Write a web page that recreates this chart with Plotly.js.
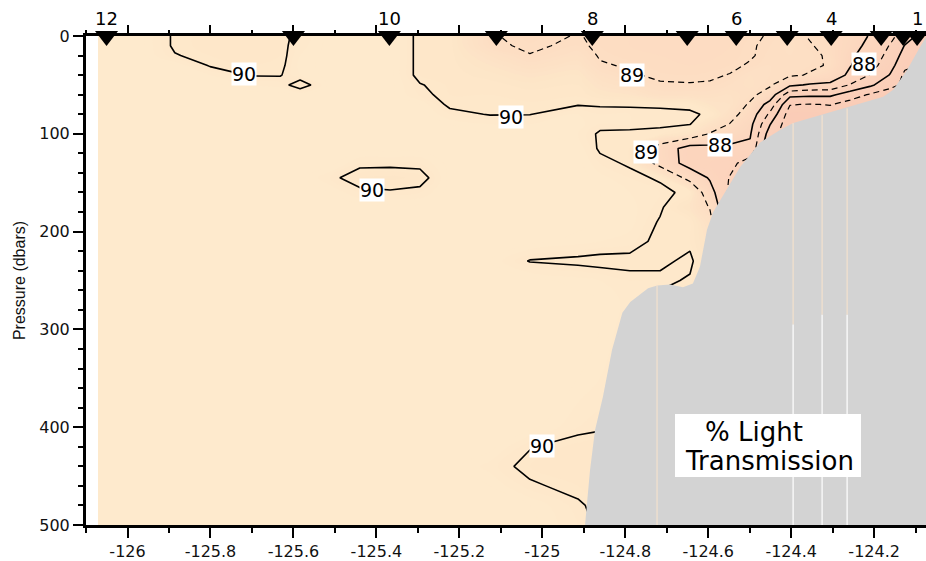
<!DOCTYPE html>
<html>
<head>
<meta charset="utf-8">
<script src="https://cdn.plot.ly/plotly-3.0.1.min.js"></script>
<style>
  html, body { margin: 0; padding: 0; background: #fff; }
  #chart { width: 926px; height: 561px; }
</style>
</head>
<body>
<div id="chart"></div>
<script>
// Section grid: longitude (deg) of each gridded profile
const gridLon = [-126.071, -125.970, -125.886, -125.801, -125.705, -125.632, -125.584, -125.512,
  -125.440, -125.367, -125.295, -125.223, -125.126, -125.030, -124.914, -124.861, -124.789,
  -124.716, -124.644, -124.596, -124.548, -124.499, -124.451, -124.403, -124.355, -124.306,
  -124.258, -124.210, -124.162, -124.126, -124.075];

// Pressure levels (dbar)
const gridP = [0, 10, 20, 30, 40, 50, 60, 70, 80, 90, 100, 115, 130, 145, 160, 175, 190, 210,
  230, 250, 270, 300, 350, 400, 420, 440, 460, 480, 500];

// % light transmission, one profile per grid longitude (surface to 500 dbar)
const transProfiles = [
  [90.35,90.35,90.35,90.35,90.35,90.35,90.35,90.35,90.35,90.35,90.35,90.35,90.35,90.35,90.35,90.35,90.35,90.35,90.35,90.35,90.35,90.35,90.35,90.35,90.35,90.35,90.35,90.35,90.35],
  [90.35,90.35,90.35,90.35,90.35,90.35,90.35,90.35,90.35,90.35,90.35,90.35,90.35,90.35,90.35,90.35,90.35,90.35,90.35,90.35,90.35,90.35,90.35,90.35,90.35,90.35,90.35,90.35,90.35],
  [89.95,89.95,90.02,90.30,90.35,90.35,90.35,90.35,90.35,90.35,90.35,90.35,90.35,90.35,90.35,90.35,90.35,90.35,90.35,90.35,90.35,90.35,90.35,90.35,90.35,90.35,90.35,90.35,90.35],
  [89.85,89.85,89.90,89.97,90.20,90.35,90.35,90.35,90.35,90.35,90.35,90.35,90.35,90.35,90.35,90.35,90.35,90.35,90.35,90.35,90.35,90.35,90.35,90.35,90.35,90.35,90.35,90.35,90.35],
  [89.85,89.85,89.85,89.90,89.98,90.20,90.35,90.35,90.35,90.35,90.35,90.35,90.35,90.35,90.35,90.35,90.35,90.35,90.35,90.35,90.35,90.35,90.35,90.35,90.35,90.35,90.35,90.35,90.35],
  [89.90,89.90,89.90,89.92,89.98,90.15,90.35,90.35,90.35,90.35,90.35,90.35,90.35,90.35,90.35,90.35,90.35,90.35,90.35,90.35,90.35,90.35,90.35,90.35,90.35,90.35,90.35,90.35,90.35],
  [90.10,90.15,90.20,90.25,90.20,89.80,90.30,90.35,90.35,90.35,90.35,90.35,90.35,90.35,90.35,90.35,90.35,90.35,90.35,90.35,90.35,90.35,90.35,90.35,90.35,90.35,90.35,90.35,90.35],
  [90.35,90.35,90.35,90.35,90.35,90.35,90.35,90.35,90.35,90.35,90.35,90.35,90.35,90.10,90.30,90.35,90.35,90.35,90.35,90.35,90.35,90.35,90.35,90.35,90.35,90.35,90.35,90.35,90.35],
  [90.35,90.35,90.35,90.35,90.35,90.35,90.35,90.35,90.35,90.35,90.35,90.35,90.10,89.80,90.10,90.35,90.35,90.35,90.35,90.35,90.35,90.35,90.35,90.35,90.35,90.35,90.35,90.35,90.35],
  [90.35,90.35,90.35,90.35,90.35,90.35,90.35,90.35,90.35,90.35,90.35,90.35,90.10,89.75,90.05,90.35,90.35,90.35,90.35,90.35,90.35,90.35,90.35,90.35,90.35,90.35,90.35,90.35,90.35],
  [89.90,89.90,89.90,89.90,89.90,90.02,90.08,90.30,90.35,90.35,90.35,90.35,90.10,89.85,90.10,90.35,90.35,90.35,90.35,90.35,90.35,90.35,90.35,90.35,90.35,90.35,90.35,90.35,90.35],
  [89.85,89.85,89.85,89.85,89.85,89.88,89.90,89.93,90.10,90.30,90.35,90.35,90.35,90.35,90.35,90.35,90.35,90.35,90.35,90.35,90.35,90.35,90.35,90.35,90.35,90.35,90.35,90.35,90.35],
  [89.05,89.10,89.40,89.60,89.75,89.85,89.90,89.93,89.98,90.20,90.30,90.35,90.35,90.35,90.35,90.35,90.35,90.35,90.30,90.35,90.35,90.35,90.35,90.35,90.35,90.15,90.30,90.35,90.35],
  [88.85,88.92,89.02,89.30,89.55,89.75,89.85,89.92,89.99,90.20,90.35,90.35,90.35,90.35,90.35,90.35,90.35,90.35,89.98,90.35,90.35,90.35,90.35,90.35,90.02,89.90,90.05,90.30,90.35],
  [89.03,89.10,89.30,89.50,89.70,89.80,89.88,89.98,90.20,90.25,90.20,90.30,90.35,90.35,90.35,90.35,90.35,90.25,89.93,90.25,90.35,90.35,90.30,90.10,89.85,89.85,89.90,90.05,90.10],
  [88.90,88.90,88.95,89.05,89.30,89.50,89.70,89.97,90.10,90.10,89.95,89.95,90.10,90.25,90.30,90.30,90.30,90.20,89.90,90.20,90.30,90.30,90.20,90.05,89.80,89.80,89.85,89.90,89.95],
  [88.80,88.80,88.85,88.95,89.05,89.30,89.60,89.96,90.10,90.10,89.93,89.90,89.95,90.10,90.20,90.25,90.25,90.15,89.90,90.10,90.15,90.10,90.10,90.10,90.10,90.10,90.10,90.10,90.10],
  [88.75,88.75,88.80,88.85,88.92,89.05,89.30,89.95,90.08,90.05,89.92,88.60,88.70,89.95,90.10,90.05,89.97,89.90,89.90,90.10,89.90,89.90,89.90,89.90,89.90,89.90,89.90,89.90,89.90],
  [88.70,88.70,88.75,88.80,88.90,89.03,89.30,89.93,90.05,90.02,89.60,87.60,87.60,88.70,89.90,89.60,89.90,89.90,90.10,89.95,89.90,89.90,89.90,89.90,89.90,89.90,89.90,89.90,89.90],
  [88.70,88.70,88.75,88.85,88.93,89.05,89.30,89.60,89.95,89.50,88.95,87.70,87.50,87.90,88.40,88.95,89.30,89.50,89.50,89.50,89.50,89.50,89.50,89.50,89.50,89.50,89.50,89.50,89.50],
  [88.80,88.80,88.85,88.90,89.02,89.20,89.40,89.50,89.30,88.98,88.50,87.80,87.30,86.95,86.80,86.80,86.80,86.80,86.80,86.80,86.80,86.80,86.80,86.80,86.80,86.80,86.80,86.80,86.80],
  [88.90,88.95,88.95,89.05,89.30,89.35,89.20,88.90,88.60,88.30,88.10,87.80,86.50,85.90,85.90,85.90,85.90,85.90,85.90,85.90,85.90,85.90,85.90,85.90,85.90,85.90,85.90,85.90,85.90],
  [89.05,89.10,89.15,89.20,89.20,89.10,88.60,87.60,86.80,86.05,85.50,84.90,84.90,84.90,84.90,84.90,84.90,84.90,84.90,84.90,84.90,84.90,84.90,84.90,84.90,84.90,84.90,84.90,84.90],
  [89.20,89.25,89.20,89.15,89.10,88.20,86.30,85.05,84.50,84.30,84.30,84.30,84.30,84.30,84.30,84.30,84.30,84.30,84.30,84.30,84.30,84.30,84.30,84.30,84.30,84.30,84.30,84.30,84.30],
  [88.95,89.05,89.15,89.10,88.95,87.90,86.20,84.95,84.50,84.30,84.30,84.30,84.30,84.30,84.30,84.30,84.30,84.30,84.30,84.30,84.30,84.30,84.30,84.30,84.30,84.30,84.30,84.30,84.30],
  [88.70,88.80,88.90,88.95,88.60,87.80,86.20,85.05,84.50,84.50,84.50,84.50,84.50,84.50,84.50,84.50,84.50,84.50,84.50,84.50,84.50,84.50,84.50,84.50,84.50,84.50,84.50,84.50,84.50],
  [88.40,88.30,88.15,88.05,87.80,86.95,85.50,84.60,84.40,84.40,84.40,84.40,84.40,84.40,84.40,84.40,84.40,84.40,84.40,84.40,84.40,84.40,84.40,84.40,84.40,84.40,84.40,84.40,84.40],
  [87.95,87.80,87.60,87.40,86.95,86.20,84.90,84.50,84.40,84.40,84.40,84.40,84.40,84.40,84.40,84.40,84.40,84.40,84.40,84.40,84.40,84.40,84.40,84.40,84.40,84.40,84.40,84.40,84.40],
  [87.30,86.95,86.70,86.40,85.95,85.30,84.50,84.50,84.50,84.50,84.50,84.50,84.50,84.50,84.50,84.50,84.50,84.50,84.50,84.50,84.50,84.50,84.50,84.50,84.50,84.50,84.50,84.50,84.50],
  [86.50,85.95,85.60,85.20,84.80,84.80,84.80,84.80,84.80,84.80,84.80,84.80,84.80,84.80,84.80,84.80,84.80,84.80,84.80,84.80,84.80,84.80,84.80,84.80,84.80,84.80,84.80,84.80,84.80],
  [85.50,84.90,84.90,84.90,84.90,84.90,84.90,84.90,84.90,84.90,84.90,84.90,84.90,84.90,84.90,84.90,84.90,84.90,84.90,84.90,84.90,84.90,84.90,84.90,84.90,84.90,84.90,84.90,84.90]
];

// Seafloor along the section (lon, pressure)
const bottomLon = [-124.897, -124.885, -124.873, -124.854, -124.832, -124.807, -124.788, -124.772,
  -124.745, -124.723, -124.692, -124.661, -124.637, -124.620, -124.610, -124.603, -124.588,
  -124.564, -124.523, -124.475, -124.427, -124.395, -124.330, -124.251, -124.178, -124.154,
  -124.121, -124.089, -124.075];
const bottomP = [500, 444, 403, 369, 321, 283, 272, 267, 258, 255, 254, 257, 253, 236, 214, 198,
  180, 163, 134, 109, 96, 89, 81, 71, 62, 55, 35, 11, 1];

// Seams between seafloor patches: lon, seafloor depth, depth where gridded data stop
const seamLon = [-124.7234, -124.3954, -124.3255, -124.2652];
const seamTopP = [255, 89, 81, 74];
const seamDataEndP = [500, 295, 285, 285];

// CTD stations occupied along the line
const stationLon = [-126.0506, -125.6, -125.3687, -125.1108, -124.8795, -124.6506, -124.5325,
  -124.4096, -124.3036, -124.1831, -124.1301, -124.0964];
const stationName = ['12', '', '10', '', '8', '', '6', '', '4', '', '', '1'];

// Axis ticks
const xTickVals = [-126, -125.8, -125.6, -125.4, -125.2, -125, -124.8, -124.6, -124.4, -124.2];
const xTickText = ['-126', '-125.8', '-125.6', '-125.4', '-125.2', '-125', '-124.8', '-124.6', '-124.4', '-124.2'];
const xMinorTickVals = [-126.1, -125.9, -125.7, -125.5, -125.3, -125.1, -124.9, -124.7, -124.5, -124.3, -124.1];
const yTickVals = [0, 100, 200, 300, 400, 500];

// Contour label placements (level shown on a white patch)
const contourLabels = [
  { lon: -125.7203, p: 39, level: 90 },
  { lon: -125.4105, p: 157.5, level: 90 },
  { lon: -125.0754, p: 83, level: 90 },
  { lon: -124.7829, p: 40, level: 89 },
  { lon: -124.7491, p: 118.5, level: 89 },
  { lon: -124.5707, p: 111.5, level: 88 },
  { lon: -124.2256, p: 28.5, level: 88 },
  { lon: -125.0007, p: 419, level: 90 }
];

// Build the z matrix (rows = pressure, columns = longitude)
const z = gridP.map((_, i) => transProfiles.map(col => col[i]));

const xRange = [-126.1001, -124.075];
const peach = [
  [0.0, 'rgb(250,203,182)'],
  [0.2857, 'rgb(251,208,186)'],
  [0.5714, 'rgb(252,214,190)'],
  [0.7143, 'rgb(253,222,195)'],
  [0.8, 'rgb(253,228,199)'],
  [0.857, 'rgb(254,232,202)'],
  [0.9, 'rgb(254,234,205)'],
  [1.0, 'rgb(254,236,208)']
];

const traces = [];

// Shaded field
traces.push({
  type: 'contour', x: gridLon, y: gridP, z: z,
  zmin: 84, zmax: 91, colorscale: peach, showscale: false,
  contours: { coloring: 'fill', start: 84, end: 91, size: 0.1, showlines: false },
  line: { width: 0 }, hoverinfo: 'skip'
});
// Even levels, solid
traces.push({
  type: 'contour', x: gridLon, y: gridP, z: z, showscale: false,
  contours: { coloring: 'none', start: 84, end: 90, size: 2 },
  line: { color: '#000', width: 1.6, smoothing: 0 }, hoverinfo: 'skip'
});
// Odd levels, dashed
traces.push({
  type: 'contour', x: gridLon, y: gridP, z: z, showscale: false,
  contours: { coloring: 'none', start: 85, end: 89, size: 2 },
  line: { color: '#000', width: 1.2, dash: '6px,4px', smoothing: 0 }, hoverinfo: 'skip'
});

// Seafloor
traces.push({
  type: 'scatter', mode: 'lines',
  x: bottomLon.concat([-124.05, -124.05, bottomLon[0]]),
  y: bottomP.concat([bottomP[bottomP.length - 1], 520, 520]),
  fill: 'toself', fillcolor: '#d3d3d3', line: { width: 0, color: '#d3d3d3' },
  hoverinfo: 'skip'
});

// Seams
seamLon.forEach((lon, i) => {
  traces.push({
    type: 'scatter', mode: 'lines', x: [lon, lon], y: [seamTopP[i], seamDataEndP[i]],
    line: { color: 'rgb(250,228,204)', width: 1 }, hoverinfo: 'skip'
  });
  if (seamDataEndP[i] < 500) {
    traces.push({
      type: 'scatter', mode: 'lines', x: [lon, lon], y: [seamDataEndP[i], 500],
      line: { color: '#ffffff', width: 1.2 }, hoverinfo: 'skip'
    });
  }
});

// Station markers
traces.push({
  type: 'scatter', mode: 'markers',
  x: stationLon, y: stationLon.map(() => 0),
  marker: { symbol: 'triangle-down', size: 20, color: '#000', line: { width: 0 } },
  cliponaxis: false, hoverinfo: 'skip'
});

const annotations = [];

// Upward ticks on the top frame: thin black boxes standing on the frame line
const topTick = (lon, len) => ({
  xref: 'x', yref: 'paper', x: lon, y: 1, yshift: 1,
  xanchor: 'center', yanchor: 'bottom', showarrow: false,
  text: ' ', width: 2, height: len, bgcolor: '#000',
  borderpad: 0, borderwidth: 0, font: { size: 1, color: '#000' }
});
xTickVals.forEach(v => annotations.push(topTick(v, 10)));
xMinorTickVals.forEach(v => annotations.push(topTick(v, 5)));

stationLon.forEach((lon, i) => {
  if (!stationName[i]) return;
  annotations.push({
    xref: 'x', yref: 'paper', x: lon, y: 1, yshift: 17.5,
    xanchor: 'center', yanchor: 'middle', showarrow: false,
    text: stationName[i], font: { family: 'DejaVu Sans', size: 18, color: '#000' }
  });
});
contourLabels.forEach(c => {
  annotations.push({
    xref: 'x', yref: 'y', x: c.lon, y: c.p, showarrow: false,
    text: String(c.level), bgcolor: '#fff', borderpad: 0,
    font: { family: 'DejaVu Sans', size: 19, color: '#000' }
  });
});
annotations.push({
  xref: 'paper', yref: 'paper', x: 0.7345, y: 0.1902, xanchor: 'left', yanchor: 'middle',
  showarrow: false, text: '% Light', font: { family: 'DejaVu Sans', size: 26, color: '#000' }
});
annotations.push({
  xref: 'paper', yref: 'paper', x: 0.7107, y: 0.1309, xanchor: 'left', yanchor: 'middle',
  showarrow: false, text: 'Transmission', font: { family: 'DejaVu Sans', size: 26, color: '#000' }
});

const layout = {
  width: 926, height: 561,
  margin: { l: 86, r: 0, t: 36, b: 36 },
  paper_bgcolor: '#fff', plot_bgcolor: '#fff', showlegend: false, hovermode: false,
  font: { family: 'DejaVu Sans', size: 16, color: '#111' },
  xaxis: {
    range: xRange, tickmode: 'array', tickvals: xTickVals, ticktext: xTickText,
    ticks: 'outside', ticklen: 10, tickwidth: 2, tickcolor: '#000', mirror: true,
    showline: true, linewidth: 3, linecolor: '#000', showgrid: false, zeroline: false,
    tickfont: { family: 'DejaVu Sans', size: 16, color: '#111' },
    minor: { tickmode: 'array', tickvals: xMinorTickVals, ticks: 'outside', ticklen: 5, tickwidth: 2, tickcolor: '#000', showgrid: false }
  },
  yaxis: {
    range: [500, 0], tickmode: 'array', tickvals: yTickVals,
    ticks: 'outside', ticklen: 10, tickwidth: 2, tickcolor: '#000',
    showline: true, linewidth: 3, linecolor: '#000', showgrid: false, zeroline: false,
    tickfont: { family: 'DejaVu Sans', size: 16, color: '#111' },
    minor: { tickmode: 'linear', tick0: 0, dtick: 20, ticks: 'outside', ticklen: 5, tickwidth: 2, tickcolor: '#000', showgrid: false },
    title: { text: 'Pressure (dbars)', font: { family: 'Liberation Sans', size: 16, color: '#111' }, standoff: 10 }
  },
  shapes: [{
    type: 'rect', xref: 'paper', yref: 'paper', x0: 0.7012, x1: 0.9226, y0: 0.0982, y1: 0.227,
    fillcolor: '#fff', line: { width: 0 }, layer: 'above'
  }],
  annotations: annotations
};

Plotly.newPlot('chart', traces, layout, { staticPlot: true, displayModeBar: false });
</script>
</body>
</html>
